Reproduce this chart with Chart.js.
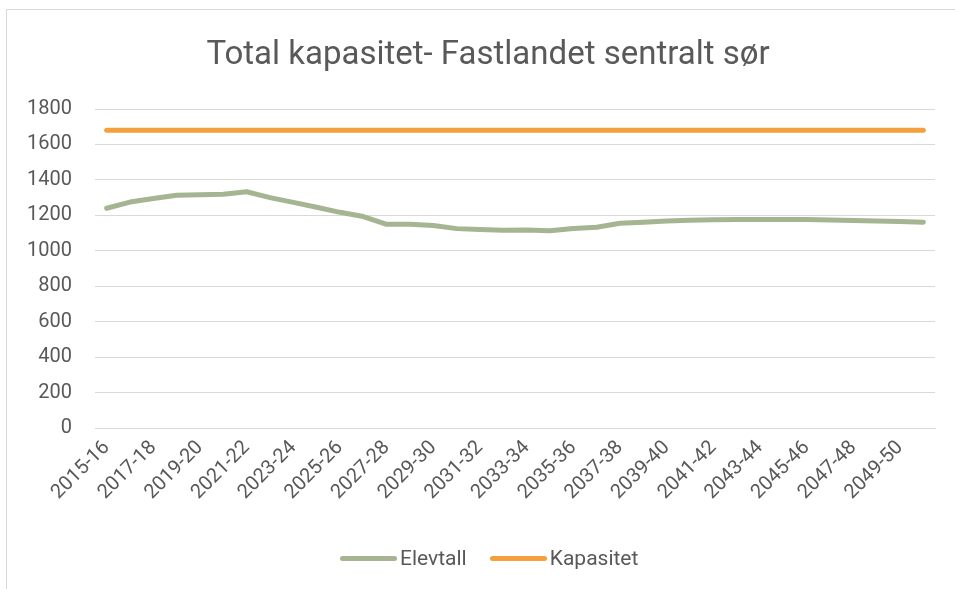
<!DOCTYPE html>
<html>
<head>
<meta charset="utf-8">
<script src="https://cdn.jsdelivr.net/npm/chart.js@4.4.1/dist/chart.umd.min.js"></script>
<style>
  html, body { margin: 0; padding: 0; background: #fff; }
  #wrap { position: relative; width: 955px; height: 589px; overflow: hidden; font-family: Roboto, sans-serif; color: #595959; }
  #frame { position: absolute; left: 6px; top: 9px; width: 1000px; height: 700px; border: 1px solid #d9d9d9; }
  canvas { position: absolute; left: 0; top: 0; }
  #title { position: absolute; left: 0; width: 976px; top: 34px; text-align: center; font-size: 33px; line-height: 38px; white-space: nowrap; }
  #legend { position: absolute; left: 340px; top: 544px; height: 28px; display: flex; align-items: center; font-size: 21px; white-space: nowrap; }
  .item { display: flex; align-items: center; margin-right: 23px; }
  .swatch { width: 57px; height: 5px; border-radius: 3px; margin-right: 3px; }
</style>
</head>
<body>
<div id="wrap">
  <div id="frame"></div>
  <canvas id="chart" width="955" height="589"></canvas>
  <div id="title">Total kapasitet- Fastlandet sentralt sør</div>
  <div id="legend"></div>
</div>
<script>
// Data
const years = [
  '2015-16', '2016-17', '2017-18', '2018-19', '2019-20', '2020-21', '2021-22', '2022-23',
  '2023-24', '2024-25', '2025-26', '2026-27', '2027-28', '2028-29', '2029-30', '2030-31',
  '2031-32', '2032-33', '2033-34', '2034-35', '2035-36', '2036-37', '2037-38', '2038-39',
  '2039-40', '2040-41', '2041-42', '2042-43', '2043-44', '2044-45', '2045-46', '2046-47',
  '2047-48', '2048-49', '2049-50', '2050-51'
];
const elevtall = [
  1240, 1275, 1295, 1313, 1316, 1319, 1333, 1300,
  1273, 1246, 1217, 1193, 1149, 1149, 1143, 1125,
  1120, 1116, 1117, 1113, 1126, 1133, 1155, 1161,
  1168, 1172, 1175, 1177, 1177, 1177, 1176, 1174,
  1171, 1168, 1165, 1161
];
const kapasitet = years.map(() => 1680);
const yTicks = [0, 200, 400, 600, 800, 1000, 1200, 1400, 1600, 1800];

const textColor = '#595959';
const gridColor = '#d9d9d9';

const ctx = document.getElementById('chart').getContext('2d');
const chart = new Chart(ctx, {
  type: 'line',
  data: {
    labels: years,
    datasets: [
      {
        label: 'Elevtall',
        data: elevtall,
        borderColor: '#a5b592',
        backgroundColor: '#a5b592',
        borderWidth: 5,
        borderCapStyle: 'round',
        borderJoinStyle: 'round',
        pointRadius: 0,
        tension: 0
      },
      {
        label: 'Kapasitet',
        data: kapasitet,
        borderColor: '#f3a03d',
        backgroundColor: '#f3a03d',
        borderWidth: 5,
        borderCapStyle: 'round',
        pointRadius: 0,
        tension: 0
      }
    ]
  },
  options: {
    responsive: false,
    animation: false,
    layout: { padding: { left: 0, right: 20, top: 109, bottom: 52 } },
    plugins: {
      title: { display: false },
      legend: { display: false },
      tooltip: { enabled: false }
    },
    scales: {
      x: {
        offset: true,
        grid: { display: false, drawTicks: false },
        border: { color: gridColor, width: 1 },
        ticks: {
          color: textColor,
          font: { family: 'Roboto', size: 20 },
          autoSkip: false,
          maxRotation: 45,
          minRotation: 45,
          padding: 8,
          callback: function (value, index) {
            return index % 2 === 0 ? years[index] : '';
          }
        },
        afterFit: function (scale) { scale.height = 109; }
      },
      y: {
        min: 0,
        max: 1800,
        afterBuildTicks: function (scale) {
          scale.ticks = yTicks.map(v => ({ value: v }));
        },
        grid: { color: gridColor, lineWidth: 1, drawTicks: false },
        border: { display: false },
        ticks: {
          color: textColor,
          font: { family: 'Roboto', size: 20 },
          padding: 23,
          callback: function (value) { return String(value); }
        },
        afterFit: function (scale) { scale.width = 95; }
      }
    }
  }
});

// Legend built from the chart's own datasets
const legendEl = document.getElementById('legend');
chart.data.datasets.forEach(ds => {
  const item = document.createElement('div');
  item.className = 'item';
  const sw = document.createElement('span');
  sw.className = 'swatch';
  sw.style.background = ds.borderColor;
  const txt = document.createElement('span');
  txt.textContent = ds.label;
  item.appendChild(sw);
  item.appendChild(txt);
  legendEl.appendChild(item);
});
</script>
</body>
</html>
